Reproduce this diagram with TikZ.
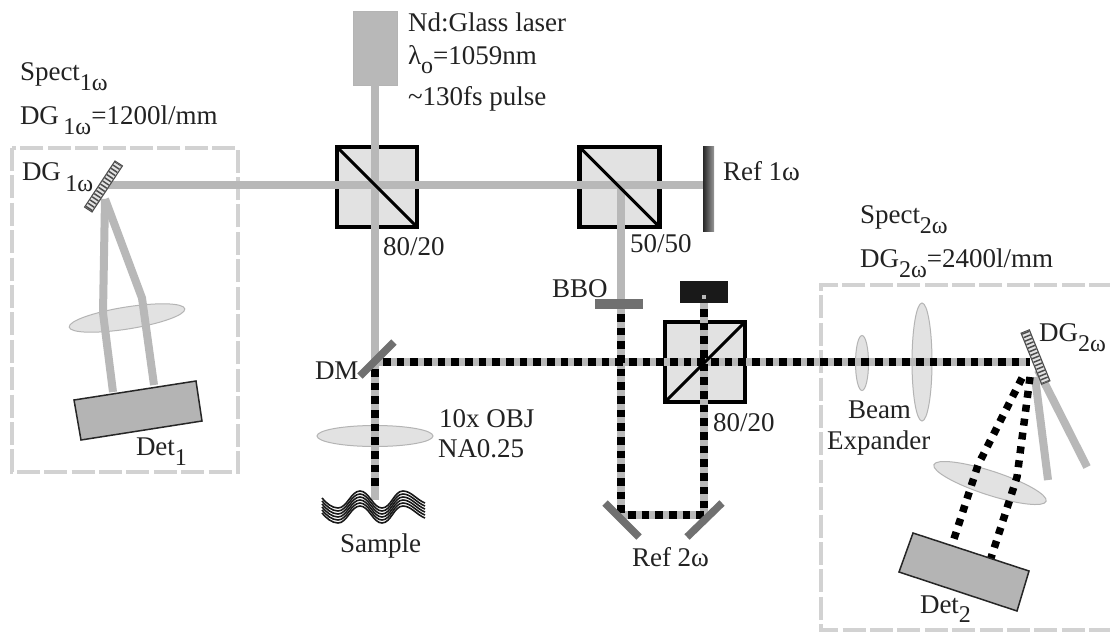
\documentclass[tikz,border=0pt]{standalone}
\usepackage{fontspec}
\setmainfont{Liberation Serif}
\usetikzlibrary{shapes.geometric}
\definecolor{beamgray}{HTML}{B8B8B8}
\definecolor{boxgray}{HTML}{D2D2D2}
\definecolor{optfill}{HTML}{E2E2E2}
\definecolor{optedge}{HTML}{B4B4B4}
\definecolor{detgray}{HTML}{B4B4B4}
\definecolor{mirgray}{HTML}{707070}
\definecolor{inkc}{HTML}{222222}
\newcommand{\lowsub}[2]{\raisebox{-#1pt}{\fontsize{24}{24}\selectfont #2}}
\tikzset{
  x=1pt,y=-1pt,
  lab/.style={anchor=base west,inner sep=0pt,outer sep=0pt,text=inkc,font=\fontsize{27}{27}\selectfont},
  cube/.style={draw=black,fill=optfill,line width=4.5pt,minimum size=80pt,inner sep=0pt,outer sep=0pt},
  splitter/.style={draw=black,line width=3pt},
  beam/.style={draw=beamgray,line width=8pt},
  dots/.style={draw=black,line width=7.5pt,dash pattern=on 7.5pt off 6.17pt},
  freedots/.style={draw=black,line width=7.5pt,dash pattern=on 7pt off 7pt},
  frame/.style={draw=boxgray,line width=4.5pt,dash pattern=on 23pt off 4.4pt},
  lens/.style={ellipse,draw=optedge,fill=optfill,line width=1pt,inner sep=0pt,outer sep=0pt},
  det/.style={draw=black!85,fill=detgray,line width=1.5pt},
  mirror/.style={draw=mirgray,line width=7.5pt},
  gratingbase/.style={draw=black!70,line width=10pt},
  gratinginner/.style={draw=optfill,line width=7.5pt},
  gratingrungs/.style={draw=black!70,line width=7.5pt,dash pattern=on 1.5pt off 2.3pt},
  wave/.style={draw=black!90,line width=1.6pt}
}
\begin{document}
\begin{tikzpicture}
\useasboundingbox (0,0) rectangle (1110,632);
\fill[white] (0,0) rectangle (1110,632);

% dashed spectrometer frames
\draw[frame] (12,148) rectangle (238,472);
\draw[frame] (1112,285) -- (821,285) -- (821,630) -- (1112,630);

% lenses
\node[lens,minimum width=117pt,minimum height=22pt,rotate=9] (lensA) at (127,318) {};
\node[lens,minimum width=116pt,minimum height=21pt] (obj) at (375,436) {};
\node[lens,minimum width=13pt,minimum height=55pt] (bexpA) at (862,363) {};
\node[lens,minimum width=20pt,minimum height=118pt] (bexpB) at (922,362) {};
\node[lens,minimum width=118pt,minimum height=24pt,rotate=-18] (lensB) at (990,483) {};

% cubes
\node[cube] (bsA) at (377,187) {};
\node[cube] (bsB) at (619.5,187) {};
\node[cube] (bsC) at (705,362) {};

% laser, detectors
\node[draw=optedge,fill=beamgray,line width=1pt,minimum width=44pt,minimum height=74pt,inner sep=0pt,outer sep=0pt] (laser) at (375,48) {};
\coordinate (dmid) at (375,362);
\coordinate (gA) at (108,185);
\coordinate (refA) at (703,185);
\coordinate (bsBout) at (621,185);
\coordinate (bbo) at (621,304);
\coordinate (sampletop) at (375,500);
\coordinate (mL) at (621,515);
\coordinate (mR) at (704,515);
\coordinate (dump) at (704,295);
\coordinate (gB) at (1030,362);

% plain fundamental beams
\draw[beam] (gA) -- (refA);
\draw[beam] (laser.south) -- (dmid);
\draw[beam] (bsBout) -- (bbo);
\draw[beam,line join=round] (105,199) -- (103,313) -- (113,392);
\draw[beam,line join=round] (105,199) -- (142,298) -- (154,385);
\draw[beam] (1035,377) -- (1048,480);
\draw[beam] (1038,370) -- (1087,467);

% second harmonic beams: grey core with black squares
\draw[beam] (dmid) -- (gB);
\draw[beam] (dmid) -- (sampletop);
\draw[beam] (bbo) -- (mL) -- (mR) -- (dump);
\draw[dots] (383,362) -- (gB);
\draw[dots] (375,369) -- (375,490);
\draw[dots] (621,314) -- (mL);
\draw[dots] (628,515) -- (mR);
\draw[dots] (704,508) -- (704,299);
\draw[freedots] (1022,378) -- (978,465) -- (951,548);
\draw[freedots] (1030,377) -- (1017,477) -- (990,561);

% splitter diagonals
\draw[splitter] (bsA.north west) -- (bsA.south east);
\draw[splitter] (bsB.north west) -- (bsB.south east);
\draw[splitter] (bsC.south west) -- (bsC.north east);

% detectors
\draw[det] (74,400) -- (196,381) -- (202,421) -- (81,440) -- cycle;
\draw[det] (913,533) -- (1029,571) -- (1017,611) -- (899,572) -- cycle;

% gratings
\draw[gratingbase] (88,210) -- (119,163);
\draw[gratinginner] (88.6,209) -- (118.4,164);
\draw[gratingrungs] (88.6,209) -- (118.4,164);
\draw[gratingbase] (1025,331) -- (1046,383);
\draw[gratinginner] (1025.4,332) -- (1045.6,382);
\draw[gratingrungs] (1025.4,332) -- (1045.6,382);

% mirrors and plates
\draw[mirror] (360,376) -- (394,342);
\draw[mirror] (605,503) -- (639,537);
\draw[mirror] (722,503) -- (687,537);
\fill[mirgray] (595,299) rectangle (643,309);
\fill[black!90] (680,281) rectangle (728,303);
\fill[beamgray] (702,295) rectangle (706,299);
\shade[left color=black!85,right color=black!40] (703,146) rectangle (714,231);

% sample
\foreach \o in {0,3,6,9,12,15}
  \draw[wave,shift={(0,\o)}] (322,498) .. controls (326,503) and (332,508) .. (338,508)
     .. controls (347,508) and (351,491) .. (360,491)
     .. controls (369,491) and (373,508) .. (382,508)
     .. controls (391,508) and (394,491) .. (403,491)
     .. controls (411,491) and (417,500) .. (425,503);

% labels
\node[lab] (tSpectA) at (20,80) {Spect\lowsub{10}{1ω}};
\node[lab] (tDGA) at (20,124) {DG\,\lowsub{10}{1ω}=1200l/mm};
\node[lab] (tDGAb) at (22,180) {DG\,\lowsub{11}{1ω}};
\node[lab] (tDetA) at (136,455) {Det\lowsub{10}{1}};
\node[lab] (tLaserA) at (408,31) {Nd:Glass laser};
\node[lab] (tLaserB) at (408,64) {λ\lowsub{9}{o}=1059nm};
\node[lab] (tLaserC) at (408,105) {\textasciitilde130fs pulse};
\node[lab] (tRatioA) at (383,255) {80/20};
\node[lab] (tRatioB) at (630,252) {50/50};
\node[lab] (tRatioC) at (713,431) {80/20};
\node[lab] (tRefA) at (723,180) {Ref 1ω};
\node[lab] (tBBO) at (552,297) {BBO};
\node[lab] (tDM) at (315,379) {DM};
\node[lab] (tObjA) at (439,427) {10x OBJ};
\node[lab] (tObjB) at (438,457) {NA0.25};
\node[lab] (tSample) at (340,552) {Sample};
\node[lab] (tRefB) at (632,566) {Ref 2ω};
\node[lab] (tSpectB) at (860,223) {Spect\lowsub{10}{2ω}};
\node[lab] (tDGB) at (860,267) {DG\lowsub{10}{2ω}=2400l/mm};
\node[lab] (tDGBb) at (1039,341) {DG\lowsub{10}{2ω}};
\node[lab] (tBeam) at (848,418) {Beam};
\node[lab] (tExp) at (827,449) {Expander};
\node[lab] (tDetB) at (920,613) {Det\lowsub{9}{2}};
\end{tikzpicture}
\end{document}
